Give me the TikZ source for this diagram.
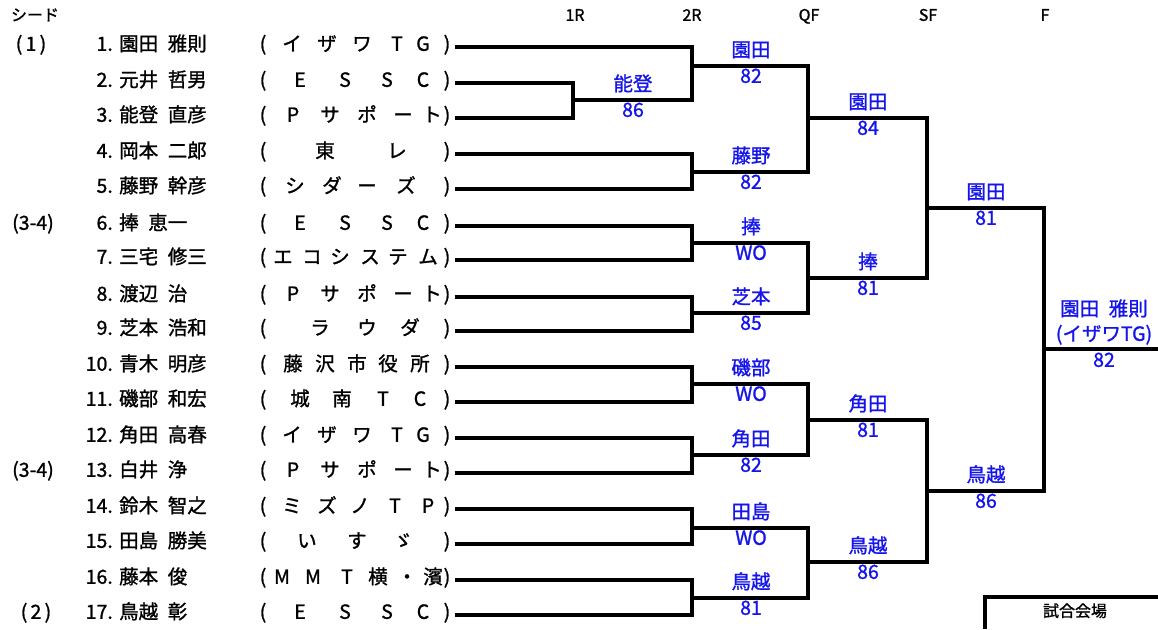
\documentclass[tikz,border=0pt]{standalone}
\usepackage{fontspec}
\setmainfont{Noto Sans CJK JP}[WordSpace=2.2, FakeBold=1.2]
\definecolor{win}{RGB}{20,20,235}
\begin{document}
\begin{tikzpicture}[x=1pt,y=-1pt,
  br/.style={line width=3.2pt, line join=miter},
  txt/.style={inner sep=0pt, text height=0.88em, text depth=0.12em},
  nm/.style={txt, font=\fontsize{19.5}{24}\selectfont},
  hd/.style={txt, font=\fontsize{16}{19}\selectfont},
  wn/.style={nm, text=win}]
\useasboundingbox[fill=white] (0,0) rectangle (1158,629);

% header
\node[hd] (hseed) at (35,17) {シード};
\node[hd] (h1) at (575,17) {1R};
\node[hd] (h2) at (692,17) {2R};
\node[hd] (h3) at (809,17) {QF};
\node[hd] (h4) at (928,17) {SF};
\node[hd] (h5) at (1045,17) {F};

% seeds
\node[nm] (seed1) at (31,47) {(\,1\,)};
\node[nm] (seed6) at (33,226) {(3-4)};
\node[nm] (seed13) at (33,473) {(3-4)};
\node[nm] (seed17) at (36,615) {(\,2\,)};

% players
\foreach \i/\y/\n/\nm/\team in {
 1/47/1./園田 雅則/{イ/292,ザ/327,ワ/362,T/397,G/423},
 2/83/2./元井 哲男/{E/300,S/345,S/387,C/423},
 3/118/3./能登 直彦/{P/293,サ/330,ポ/367,ー/403,ト/432},
 4/154/4./岡本 二郎/{東/325,レ/397},
 5/189/5./藤野 幹彦/{シ/295,ダ/332,ー/367,ズ/406},
 6/226/6./捧 恵一/{E/300,S/345,S/387,C/423},
 7/260/7./三宅 修三/{エ/283,コ/312,シ/340,ス/370,テ/398,ム/428},
 8/297/8./渡辺 治/{P/293,サ/330,ポ/367,ー/403,ト/432},
 9/331/9./芝本 浩和/{ラ/320,ウ/367,ダ/410},
 10/367/10./青木 明彦/{藤/293,沢/325,市/357,役/388,所/420},
 11/402/11./磯部 和宏/{城/300,南/342,T/383,C/420},
 12/438/12./角田 高春/{イ/292,ザ/327,ワ/362,T/397,G/423},
 13/473/13./白井 浄/{P/293,サ/330,ポ/367,ー/403,ト/432},
 14/509/14./鈴木 智之/{ミ/292,ズ/327,ノ/360,T/395,P/428},
 15/544/15./田島 勝美/{い/307,す/357,ゞ/403},
 16/580/16./藤本 俊/{M/282,M/313,T/347,横/378,・/407,濱/433},
 17/615/17./鳥越 彰/{E/300,S/345,S/387,C/423}}{
  \node[nm, anchor=east] (num\i) at (113,\y) {\n};
  \node[nm, anchor=west] (name\i) at (119,\y) {\nm};
  \node[nm] (lp\i) at (263,\y) {(};
  \node[nm] (rp\i) at (447,\y) {)};
  \foreach \c/\x [count=\k] in \team {\node[nm] (t\i-\k) at (\x,\y) {\c};}
  \coordinate (r\i) at (455,\y);
}

% junctions
\coordinate (j1) at (573,100);
\coordinate (a1) at (692,66);
\coordinate (a2) at (692,172);
\coordinate (a3) at (692,243);
\coordinate (a4) at (692,313);
\coordinate (a5) at (692,384);
\coordinate (a6) at (692,455);
\coordinate (a7) at (692,528);
\coordinate (a8) at (692,598);
\coordinate (b1) at (808,118);
\coordinate (b2) at (808,278);
\coordinate (b3) at (808,420);
\coordinate (b4) at (808,562);
\coordinate (c1) at (927,208);
\coordinate (c2) at (927,491);
\coordinate (f) at (1044,349);
\coordinate (fe) at (1158,349);

% bracket
\draw[br] (r2) -| (j1) |- (r3);
\draw[br] (r1) -| (a1) |- (j1);
\draw[br] (r4) -| (a2) |- (r5);
\draw[br] (r6) -| (a3) |- (r7);
\draw[br] (r8) -| (a4) |- (r9);
\draw[br] (r10) -| (a5) |- (r11);
\draw[br] (r12) -| (a6) |- (r13);
\draw[br] (r14) -| (a7) |- (r15);
\draw[br] (r16) -| (a8) |- (r17);
\draw[br] (a1) -| (b1) |- (a2);
\draw[br] (a3) -| (b2) |- (a4);
\draw[br] (a5) -| (b3) |- (a6);
\draw[br] (a7) -| (b4) |- (a8);
\draw[br] (b1) -| (c1) |- (b2);
\draw[br] (b3) -| (c2) |- (b4);
\draw[br] (c1) -| (f) |- (c2);
\draw[br] (f) -- (fe);

% winners
\foreach \x/\y/\w/\s [count=\k] in {
 633/100/能登/86,
 751/66/園田/82, 751/172/藤野/82, 751/243/捧/WO, 751/313/芝本/85,
 751/384/磯部/WO, 751/455/角田/82, 751/528/田島/WO, 751/598/鳥越/81,
 868/118/園田/84, 868/278/捧/81, 868/420/角田/81, 868/562/鳥越/86,
 986/208/園田/81, 986/491/鳥越/86}{
  \node[wn] (w\k) at (\x,\y-13) {\w};
  \node[wn] (s\k) at (\x,\y+13) {\s};
}
\node[wn] (fw) at (1104,312) {園田 雅則};
\node[wn] (ft) at (1104,337) {(イザワTG)};
\node[wn] (fs) at (1104,363) {82};

% venue box
\coordinate (vb) at (985,629);
\coordinate (ve) at (1158,597);
\draw[br] (vb) |- (ve);
\node[hd] (venue) at (1075,613) {試合会場};
\end{tikzpicture}
\end{document}
